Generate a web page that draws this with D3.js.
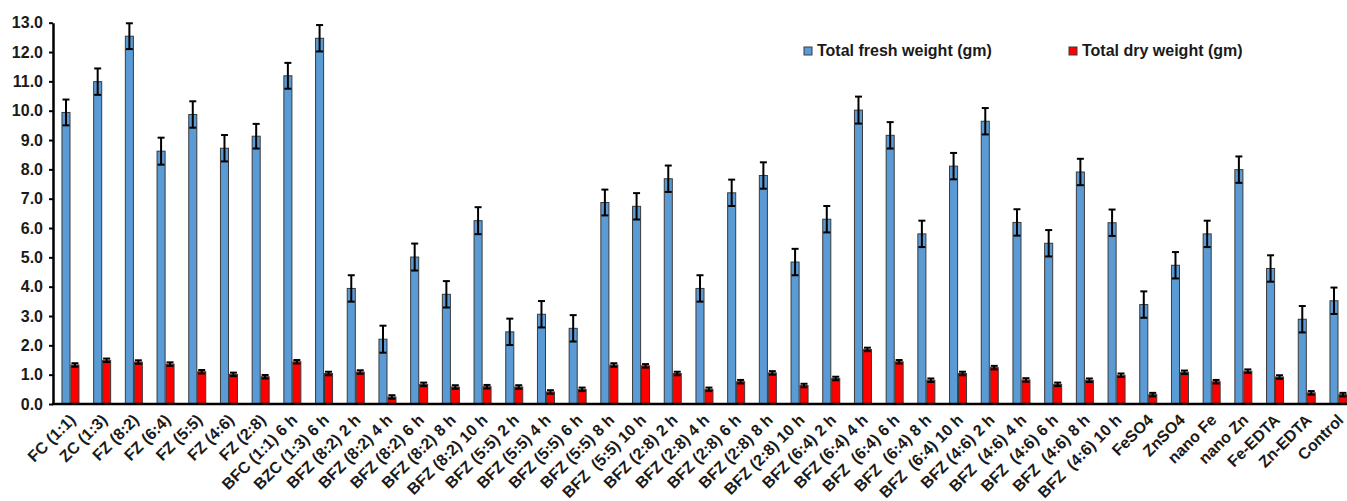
<!DOCTYPE html>
<html>
<head>
<meta charset="utf-8">
<script src="https://cdn.jsdelivr.net/npm/d3@7"></script>
<style>
  html, body { margin: 0; padding: 0; background: #fff; }
  svg { display: block; font-family: "Liberation Sans", Arial, sans-serif; font-weight: bold; }
</style>
</head>
<body>
<svg id="chart" width="1347" height="501"></svg>
<script>
// Treatments along the x axis
const categories = [
  "FC (1:1)", "ZC (1:3)", "FZ (8:2)", "FZ (6:4)", "FZ (5:5)", "FZ (4:6)", "FZ (2:8)",
  "BFC (1:1) 6 h", "BZC (1:3) 6 h",
  "BFZ (8:2) 2 h", "BFZ (8:2) 4 h", "BFZ (8:2) 6 h", "BFZ (8:2) 8 h", "BFZ (8:2) 10 h",
  "BFZ (5:5) 2 h", "BFZ (5:5) 4 h", "BFZ (5:5) 6 h", "BFZ (5:5) 8 h", "BFZ  (5:5) 10 h",
  "BFZ (2:8) 2 h", "BFZ (2:8) 4 h", "BFZ (2:8) 6 h", "BFZ (2:8) 8 h", "BFZ (2:8) 10 h",
  "BFZ (6:4) 2 h", "BFZ (6:4) 4 h", "BFZ  (6:4) 6 h", "BFZ  (6:4) 8 h", "BFZ  (6:4) 10 h",
  "BFZ (4:6) 2 h", "BFZ  (4:6) 4 h", "BFZ  (4:6) 6 h", "BFZ  (4:6) 8 h", "BFZ  (4:6) 10 h",
  "FeSO4", "ZnSO4", "nano Fe", "nano Zn", "Fe-EDTA", "Zn-EDTA", "Control"
];

// Total fresh weight (gm) and its error
const freshWeight = [
  9.94, 10.99, 12.54, 8.62, 9.87, 8.72, 9.13,
  11.19, 12.47,
  3.94, 2.21, 5.01, 3.74, 6.25,
  2.46, 3.06, 2.58, 6.87, 6.74,
  7.68, 3.94, 7.20, 7.79, 4.84,
  6.30, 10.02, 9.16, 5.80, 8.11,
  9.64, 6.19, 5.48, 7.91, 6.18,
  3.39, 4.73, 5.80, 7.99, 4.62, 2.89, 3.52
];
const freshError = [
  0.44, 0.45, 0.44, 0.46, 0.45, 0.45, 0.42,
  0.44, 0.45,
  0.45, 0.46, 0.46, 0.45, 0.46,
  0.45, 0.45, 0.45, 0.44, 0.45,
  0.45, 0.45, 0.45, 0.45, 0.45,
  0.45, 0.46, 0.45, 0.45, 0.45,
  0.45, 0.45, 0.45, 0.45, 0.45,
  0.45, 0.45, 0.45, 0.45, 0.45, 0.45, 0.45
];

// Total dry weight (gm) and its error
const dryWeight = [
  1.33, 1.49, 1.43, 1.36, 1.10, 1.01, 0.93,
  1.44, 1.04,
  1.09, 0.24, 0.67, 0.58, 0.59,
  0.58, 0.41, 0.50, 1.33, 1.30,
  1.04, 0.50, 0.76, 1.06, 0.63,
  0.87, 1.86, 1.44, 0.81, 1.04,
  1.24, 0.82, 0.67, 0.81, 0.98,
  0.32, 1.08, 0.76, 1.12, 0.92, 0.38, 0.32
];
const dryError = categories.map(() => 0.06);

const seriesNames = ["Total fresh weight (gm)", "Total dry weight (gm)"];
const seriesColors = ["#5b9bd5", "#ff0000"];
const yTickValues = [0, 1, 2, 3, 4, 5, 6, 7, 8, 9, 10, 11, 12, 13];

const svg = d3.select("#chart");

const plotLeft = 53, plotTop = 22.7, plotBottom = 404;
const bandStart = 54.6, bandStep = 31.7;

const x = d3.scaleBand()
  .domain(categories)
  .range([bandStart, bandStart + bandStep * categories.length])
  .padding(0);

const y = d3.scaleLinear().domain([0, 13]).range([plotBottom, plotTop]);

// Sub-band: fresh weight on the left, dry weight on the right
const xs = d3.scaleBand()
  .domain([0, 1])
  .range([x.bandwidth() / 2 - 8.5, x.bandwidth() / 2 + 8.5])
  .paddingInner(0.1);

const rows = categories.map((c, i) => ({
  cat: c,
  vals: [
    { s: 0, v: freshWeight[i], e: freshError[i] },
    { s: 1, v: dryWeight[i], e: dryError[i] }
  ]
}));

const groups = svg.append("g").selectAll("g")
  .data(rows)
  .join("g")
  .attr("transform", d => `translate(${x(d.cat)},0)`);

groups.selectAll("rect")
  .data(d => d.vals)
  .join("rect")
  .attr("x", d => xs(d.s))
  .attr("width", xs.bandwidth())
  .attr("y", d => y(d.v))
  .attr("height", d => y(0) - y(d.v))
  .attr("fill", d => seriesColors[d.s])
  .attr("stroke", "#3a3a3a")
  .attr("stroke-width", 1);

// Error bars
const eb = groups.selectAll("g.err")
  .data(d => d.vals)
  .join("g")
  .attr("class", "err")
  .attr("stroke", "#000")
  .attr("stroke-width", 2);

const cx = d => xs(d.s) + xs.bandwidth() / 2;
eb.append("line")
  .attr("x1", cx).attr("x2", cx)
  .attr("y1", d => y(d.v + d.e)).attr("y2", d => y(d.v - d.e));
eb.append("line")
  .attr("x1", d => cx(d) - 3.5).attr("x2", d => cx(d) + 3.5)
  .attr("y1", d => y(d.v + d.e)).attr("y2", d => y(d.v + d.e));
eb.append("line")
  .attr("x1", d => cx(d) - 3.5).attr("x2", d => cx(d) + 3.5)
  .attr("y1", d => y(d.v - d.e)).attr("y2", d => y(d.v - d.e));

// Y axis
const yAxis = svg.append("g")
  .attr("transform", `translate(${plotLeft},0)`)
  .call(d3.axisLeft(y).tickValues(yTickValues).tickFormat(d3.format(".1f")).tickSize(4).tickPadding(6).tickSizeOuter(0));
yAxis.select(".domain").attr("stroke", "#000").attr("stroke-width", 2.5);
yAxis.selectAll(".tick line").attr("stroke", "#000").attr("stroke-width", 2);
yAxis.selectAll(".tick text")
  .attr("font-size", "16px")
  .attr("font-weight", "bold")
  .attr("font-family", '"Liberation Sans", Arial, sans-serif')
  .attr("fill", "#1a1a1a");

// X axis baseline and rotated labels
const xAxis = svg.append("g")
  .attr("transform", `translate(0,${plotBottom})`)
  .call(d3.axisBottom(x).tickSize(0).tickSizeOuter(0));
xAxis.select(".domain")
  .attr("d", `M${plotLeft - 1},0H1347`)
  .attr("stroke", "#000").attr("stroke-width", 2.5);
xAxis.selectAll(".tick text")
  .attr("font-size", "16px")
  .attr("font-weight", "bold")
  .attr("font-family", '"Liberation Sans", Arial, sans-serif')
  .attr("fill", "#1a1a1a")
  .style("white-space", "pre")
  .attr("text-anchor", "end")
  .attr("dy", null)
  .attr("y", 0)
  .attr("transform", "translate(6,17) rotate(-45)");

// Legend
const legendX = [804, 1069];
const legend = svg.append("g").selectAll("g")
  .data(seriesNames)
  .join("g")
  .attr("transform", (d, i) => `translate(${legendX[i]},47)`);
legend.append("rect")
  .attr("width", 8).attr("height", 8)
  .attr("fill", (d, i) => seriesColors[i])
  .attr("stroke", "#3a3a3a").attr("stroke-width", 1);
legend.append("text")
  .attr("x", 13).attr("y", 9)
  .attr("font-size", "16px")
  .attr("fill", "#1a1a1a")
  .text(d => d);
</script>
</body>
</html>
